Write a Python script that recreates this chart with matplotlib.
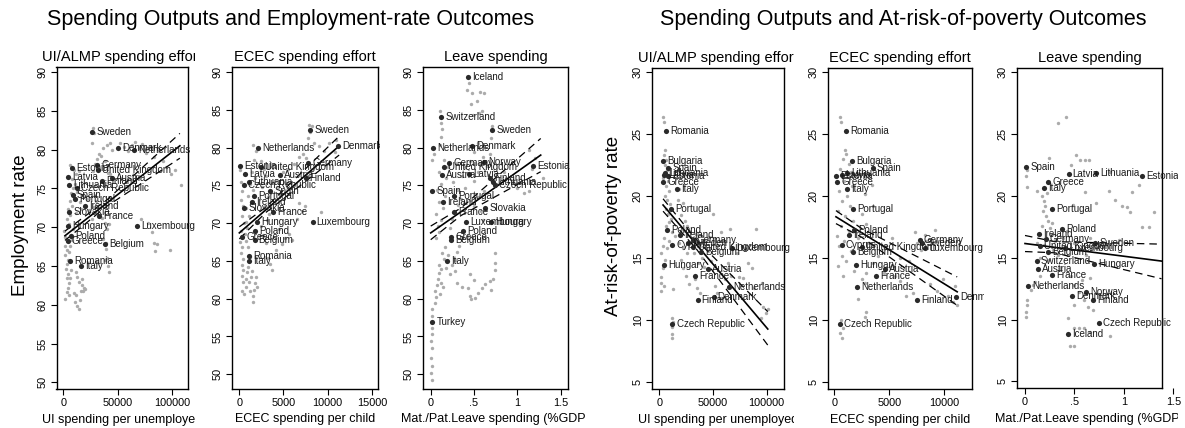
import numpy as np
import matplotlib
matplotlib.use("Agg")
import matplotlib.pyplot as plt
from matplotlib import transforms as mtransforms

plt.rcParams['font.family'] = ['Liberation Sans', 'DejaVu Sans']

W, H = 1185, 428
nan = np.nan

# country-level values (latest wave), one entry per country
countries = ['Iceland', 'Switzerland', 'Sweden', 'Denmark', 'Netherlands', 'Germany',
             'Norway', 'United Kingdom', 'Estonia', 'Latvia', 'Austria', 'Lithuania',
             'Finland', 'Czech Republic', 'Spain', 'Portugal', 'Ireland', 'Slovakia',
             'France', 'Hungary', 'Luxembourg', 'Poland', 'Greece', 'Belgium',
             'Romania', 'Italy', 'Turkey', 'Bulgaria', 'Cyprus']
emp_rate = [89.4, 84.0, 82.3, 80.2, 79.9, 78.0, 78.1, 77.4, 77.6, 76.5, 76.3, 75.5,
            75.9, 75.1, 74.2, 73.6, 72.8, 72.0, 71.5, 70.1, 70.1, 68.9, 68.2, 67.8,
            65.6, 65.0, 56.9, nan, nan]
pov_rate = [8.8, 14.7, 16.2, 11.9, 12.7, 16.5, 12.2, 15.95, 21.65, 21.75, 14.1, 21.85,
            11.6, 9.7, 22.3, 18.95, 16.9, nan, 13.6, 14.5, 15.8, 17.3, 21.15, 15.5,
            25.3, 20.6, nan, 22.85, 16.1]
ui_spend = [nan, nan, 26800, 50500, 64900, 31200, nan, 31700, 7800, 4100, 44900, 5300,
            35600, 12200, 8500, 10700, 19600, 5500, 32900, 4600, 67800, 7000, 3900, 38600,
            6100, 16600, nan, 3700, 12100]
ecec_spend = [nan, nan, 8030, 11130, 2080, 7780, nan, 2480, 120, 660, 4600, 1120,
              7500, 490, 3500, 1690, 1380, 530, 3770, 1960, 8290, 1800, 290, 1720,
              1050, 1130, nan, 1590, 675]
leave_spend = [0.435, 0.12, 0.71, 0.48, 0.03, 0.21, 0.62, 0.15, 1.18, 0.44, 0.127, 0.72,
               0.69, 0.745, 0.015, 0.27, 0.14, 0.626, 0.27, 0.70, 0.405, 0.37, 0.234, 0.232,
               nan, 0.187, 0.018, nan, nan]

# all country-year observations (UI in thousands per unemployed)
obs_ui_emp = [
    (1, 69.5), (2, 68.8), (3, 68.2), (1.5, 67.6), (3, 67.0), (2, 66.4), (4, 65.8), (3, 65.2),
    (2.5, 64.6), (4, 64.0), (3, 63.4), (5, 62.8), (4, 62.2), (3, 61.6), (1.5, 60.8), (5, 61.2),
    (6, 63.5), (7, 64.5), (5, 66.8), (6, 67.6), (8, 68.4), (7, 69.0), (9, 69.8), (5, 70.4),
    (3, 71.0), (6, 71.6), (4, 72.4), (8, 72.8), (6, 73.4), (10, 73.8), (7, 74.4), (9, 75.0),
    (11, 75.6), (8, 76.2), (12, 76.8), (10, 77.4), (6, 78.0), (14, 77.2), (13, 74.6), (15, 73.2),
    (12, 71.8), (16, 72.4), (10, 61.5), (11, 60.4), (12, 61.2), (13, 59.9), (14, 59.5), (15, 60.6),
    (16, 61.8), (17, 62.6), (18, 61.8), (19, 62.2), (14, 62.9), (13, 63.6), (12, 64.2), (17, 63.3),
    (20, 62.0), (22, 73.6), (24, 72.2), (26, 71.0), (28, 72.6), (30, 73.4), (27, 77.2), (29, 78.2),
    (31, 78.8), (33, 79.4), (27, 82.8), (28, 82.2), (26, 80.8), (35, 79.2), (37, 80.2), (40, 80.6),
    (43, 80.9), (45, 80.0), (38, 78.6), (41, 77.0), (43, 76.8), (36, 71.2), (38, 70.6), (40, 69.8),
    (42, 70.4), (37, 68.5), (39, 67.2), (40, 66.0), (41, 65.0), (42, 64.2), (38, 65.8), (39, 68.0),
    (52, 80.8), (56, 80.4), (60, 79.8), (63, 80.6), (66, 81.0), (70, 80.2), (73, 80.7), (76, 79.6),
    (80, 80.4), (84, 79.0), (88, 79.8), (92, 78.6), (95, 77.8), (99, 76.8), (103, 77.4), (109, 75.5),
    (82, 69.4), (84, 68.0), (85, 66.9), (86, 67.8), (98, 67.0), (78, 70.6), (72, 71.0),
]
obs_ecec_emp = [
    (100, 77.0), (200, 75.5), (300, 74.2), (150, 73.0), (400, 72.2), (250, 71.0), (500, 70.0),
    (200, 69.0), (350, 68.3), (100, 67.5), (300, 66.8), (200, 66.0), (400, 65.2), (250, 64.5),
    (450, 63.8), (300, 63.0), (400, 62.2), (350, 61.0), (500, 60.6), (700, 61.5), (800, 62.6),
    (900, 63.5), (1000, 64.2), (1100, 62.2), (1200, 61.0), (1300, 62.8), (1400, 63.6), (1500, 59.6),
    (1600, 60.4), (1700, 61.2), (1800, 62.0), (1900, 62.8), (2000, 61.6), (1200, 65.5), (1000, 66.8),
    (800, 67.6), (600, 68.5), (900, 69.4), (700, 70.2), (1100, 71.0), (800, 72.0), (1300, 72.8),
    (1000, 73.6), (1500, 74.4), (1200, 75.2), (1800, 76.0), (1400, 76.8), (2200, 77.5), (1700, 78.4),
    (1600, 80.4), (1900, 79.6), (2500, 78.2), (2800, 77.2), (3000, 76.2), (2600, 74.8), (3200, 73.4),
    (2900, 72.2), (3400, 71.2), (3100, 70.4), (2400, 69.6), (2700, 68.4), (3000, 67.4), (3500, 64.6),
    (3700, 63.8), (3300, 65.4), (4200, 66.4), (4800, 67.2), (5200, 68.0), (5600, 68.6), (6000, 67.8),
    (4500, 69.2), (4000, 75.6), (4400, 74.8), (5000, 76.8), (5500, 77.2), (6200, 77.8), (6800, 78.8),
    (7200, 79.2), (7600, 78.6), (7800, 81.2), (8000, 82.0), (8200, 82.9), (7900, 83.0), (8500, 80.6),
    (9000, 80.2), (9600, 79.6), (10200, 80.6), (10800, 79.4), (11000, 81.0), (6800, 72.6),
    (7100, 71.6), (7400, 72.2), (9300, 71.4), (6500, 70.6),
]
obs_leave_emp = [
    (0.01, 49.2), (0.0, 50.1), (0.01, 51.1), (0.0, 52.2), (0.01, 53.5), (0.0, 54.4), (0.01, 55.3),
    (0.01, 56.1), (0.02, 57.7), (0.02, 58.6), (0.05, 59.4), (0.06, 60.2), (0.05, 61.0), (0.07, 61.8),
    (0.08, 62.6), (0.1, 63.4), (0.12, 63.9), (0.09, 64.5), (0.12, 62.0), (0.14, 61.5), (0.11, 60.6),
    (0.15, 65.2), (0.13, 66.0), (0.17, 66.8), (0.2, 65.8), (0.18, 64.0), (0.22, 63.3), (0.25, 64.4),
    (0.28, 65.1), (0.3, 66.2), (0.33, 67.0), (0.28, 63.6), (0.3, 62.0), (0.36, 61.6), (0.43, 61.4),
    (0.45, 60.3), (0.47, 59.9), (0.51, 60.1), (0.55, 60.7), (0.59, 61.4), (0.63, 61.9), (0.69, 62.3),
    (0.7, 61.2), (0.72, 62.6), (0.74, 63.8), (0.74, 64.7), (0.74, 66.0), (0.45, 63.2), (0.5, 62.5),
    (0.06, 68.0), (0.1, 68.8), (0.08, 69.6), (0.12, 70.4), (0.06, 71.2), (0.14, 72.0), (0.09, 72.8),
    (0.16, 73.6), (0.07, 74.4), (0.12, 75.2), (0.18, 76.0), (0.1, 76.8), (0.2, 77.4), (0.15, 78.4),
    (0.22, 69.4), (0.25, 70.6), (0.28, 71.4), (0.32, 72.4), (0.35, 73.2), (0.38, 72.6), (0.3, 74.4),
    (0.26, 75.4), (0.4, 74.6), (0.45, 73.0), (0.5, 72.2), (0.55, 73.4), (0.58, 71.6), (0.6, 70.4),
    (0.62, 74.2), (0.5, 75.6), (0.36, 76.2), (0.4, 77.4), (0.3, 78.0), (0.02, 78.4), (0.04, 79.2),
    (0.03, 80.0), (0.11, 80.4), (0.12, 81.4), (0.13, 82.4), (0.12, 83.2), (0.11, 84.8), (0.44, 88.5),
    (0.42, 87.6), (0.48, 87.2), (0.57, 87.3), (0.61, 87.2), (0.53, 86.1), (0.59, 84.8), (0.56, 84.6),
    (0.49, 84.3), (0.46, 85.8), (0.45, 78.2), (0.5, 79.4), (0.55, 80.6), (0.6, 78.8), (0.65, 77.6),
    (0.68, 79.2), (0.7, 81.2), (0.71, 82.8), (0.66, 76.4), (0.55, 76.8), (0.75, 75.2), (0.95, 75.4),
    (1.0, 74.6), (1.08, 74.0), (1.13, 74.3), (1.13, 79.7), (1.17, 77.2), (1.2, 78.6), (0.85, 76.8),
    (1.3, 76.0),
]
obs_ui_pov = [
    (3, 26.4), (4, 26.0), (5, 23.7), (4, 23.3), (6, 22.9), (5, 22.5), (7, 22.1), (3, 21.5), (8, 21.2),
    (6, 20.8), (9, 20.4), (5, 20.0), (7, 19.7), (10, 19.4), (6, 19.0), (8, 18.6), (11, 18.2), (9, 17.9),
    (6, 17.6), (12, 17.1), (4, 16.6), (9, 16.4), (3, 16.0), (7, 15.8), (2, 15.4), (5, 14.9), (3, 14.2),
    (2, 13.5), (2, 13.0), (2, 12.4), (4, 12.8), (13, 12.5), (12, 10.2), (12, 9.5), (12, 8.9), (12, 8.6),
    (13, 9.9), (17, 19.7), (22, 19.5), (18, 20.6), (20, 18.5), (24, 18.0), (26, 17.6), (28, 17.2),
    (15, 16.8), (18, 16.2), (22, 15.8), (26, 15.4), (30, 16.4), (20, 14.9), (22, 14.2), (25, 13.6),
    (28, 12.9), (33, 13.3), (35, 12.6), (38, 12.2), (36, 14.6), (40, 15.0), (42, 14.3), (32, 15.4),
    (34, 17.0), (38, 16.2), (45, 15.6), (48, 14.8), (50, 18.6), (46, 16.7), (57, 17.1), (66, 17.4),
    (52, 12.8), (54, 12.2), (57, 11.8), (61, 13.3), (64, 14.1), (67, 13.6), (64, 14.6), (74, 13.5),
    (78, 13.4), (77, 16.0), (80, 15.8), (83, 14.6), (86, 14.2), (72, 15.4), (90, 17.4), (95, 10.2),
    (97, 11.1), (99, 10.6), (101, 10.9), (96, 13.0), (88, 12.6),
]
obs_ecec_pov = [
    (520, 26.4), (600, 26.0), (1000, 23.7), (1100, 23.4), (800, 23.0), (1300, 22.6), (500, 22.2),
    (1500, 22.0), (200, 21.6), (900, 21.2), (1600, 20.8), (400, 20.4), (1200, 20.0), (700, 19.6),
    (1400, 19.2), (300, 18.8), (1000, 18.4), (1700, 18.0), (600, 17.6), (1300, 17.2), (200, 16.8),
    (900, 16.4), (400, 16.0), (1500, 15.6), (700, 15.2), (1100, 14.8), (300, 14.4), (1800, 14.0),
    (800, 13.6), (2200, 21.8), (3400, 20.9), (3560, 19.2), (2800, 20.2), (2500, 18.6), (2900, 17.8),
    (2200, 16.6), (2600, 15.8), (3200, 16.2), (2500, 13.3), (2800, 13.0), (2900, 13.8), (2190, 11.7),
    (2800, 10.3), (2850, 10.7), (520, 9.0), (700, 8.6), (800, 9.4), (600, 10.0), (3500, 14.6),
    (4000, 15.2), (4500, 13.8), (5070, 14.3), (5500, 13.6), (5990, 13.2), (4700, 16.0), (5300, 16.6),
    (6000, 15.0), (7350, 17.1), (8270, 16.9), (9180, 17.3), (7500, 16.2), (7900, 15.7), (8400, 16.4),
    (6800, 14.8), (8700, 12.9), (9400, 12.4), (9940, 13.3), (10400, 12.0), (10800, 11.5),
    (11160, 11.2), (11000, 12.8), (7200, 12.2), (6500, 12.0),
]
obs_leave_pov = [
    (0.41, 26.4), (0.33, 25.9), (0.24, 23.1), (0.52, 23.3), (0.56, 22.9), (0.61, 22.9), (0.65, 22.9),
    (0.47, 22.5), (0.02, 22.1), (0.01, 21.6), (0.02, 20.7), (0.12, 20.4), (0.86, 21.9), (0.85, 20.4),
    (1.08, 20.3), (1.15, 20.9), (0.72, 19.4), (0.91, 19.7), (0.98, 19.2), (1.03, 19.1), (1.06, 18.7),
    (1.3, 18.7), (1.18, 17.5), (1.25, 17.5), (0.49, 19.3), (0.61, 20.3), (0.17, 20.0), (0.19, 19.6),
    (0.2, 19.2), (0.18, 18.8), (0.21, 18.4), (0.23, 18.0), (0.17, 17.6), (0.25, 17.4), (0.27, 17.8),
    (0.22, 20.2), (0.26, 16.8), (0.3, 16.4), (0.19, 16.0), (0.12, 16.2), (0.28, 15.6), (0.33, 15.2),
    (0.24, 14.8), (0.15, 15.0), (0.38, 16.6), (0.42, 17.2), (0.5, 16.2), (0.55, 15.6), (0.62, 15.2),
    (0.66, 16.6), (0.72, 15.8), (0.78, 16.0), (0.95, 16.4), (0.35, 14.2), (0.01, 10.2), (0.01, 10.6),
    (0.02, 11.2), (0.02, 11.6), (0.06, 12.4), (0.1, 13.0), (0.15, 13.5), (0.08, 12.8), (0.47, 13.5),
    (0.5, 12.8), (0.55, 12.2), (0.6, 11.6), (0.64, 11.0), (0.69, 10.8), (0.58, 13.2), (0.66, 13.4),
    (0.5, 11.2), (0.82, 12.1), (0.43, 10.1), (0.5, 9.3), (0.55, 9.3), (0.6, 9.3), (0.66, 9.0),
    (0.86, 8.7), (0.5, 7.9), (0.45, 7.9),
]

# linear fits with 95% CI (x, fit, lower, upper)
fit_ui_emp = ([1500, 40000, 107500], [68.9, 73.1, 80.5], [68.3, 72.7, 78.9], [69.5, 73.5, 82.1])
fit_ecec_emp = ([0, 3000, 11300], [68.7, 71.75, 80.2], [67.9, 71.4, 79.0], [69.5, 72.1, 81.5])
fit_leave_emp = ([0, 0.35, 1.27], [68.7, 71.5, 79.0], [67.8, 71.0, 76.8], [69.6, 72.0, 81.2])
fit_ui_pov = ([3500, 35000, 101000], [19.3, 16.07, 9.3], [18.8, 15.7, 8.0], [19.8, 16.45, 10.7])
fit_ecec_pov = ([150, 2500, 11200], [18.35, 17.06, 12.3], [17.8, 16.7, 11.2], [18.85, 17.4, 13.5])
fit_leave_pov = ([0, 0.3, 1.38], [16.15, 15.84, 14.73], [15.5, 15.4, 13.3], [16.8, 16.3, 16.1])

emp_ticks = [50, 55, 60, 65, 70, 75, 80, 85, 90]
pov_ticks = [5, 10, 15, 20, 25, 30]

panels = [
    dict(box=(56.5, 66.7, 188, 389.3), cell=(0, 195), x=ui_spend, y=emp_rate,
         obs=obs_ui_emp, xmul=1000, fit=fit_ui_emp, xlim=(-6300, 115000), ylim=(49.1, 90.7),
         xticks=[0, 50000, 100000], xtl=['0', '50000', '100000'], yticks=emp_ticks,
         title='UI/ALMP spending effort', xlabel='UI spending per unemployed'),
    dict(box=(232, 66.7, 378, 388.5), cell=(195, 380), x=ecec_spend, y=emp_rate,
         obs=obs_ecec_emp, xmul=1, fit=fit_ecec_emp, xlim=(-830, 15700), ylim=(48.1, 90.7),
         xticks=[0, 5000, 10000, 15000], xtl=['0', '5000', '10000', '15000'], yticks=emp_ticks,
         title='ECEC spending effort', xlabel='ECEC spending per child'),
    dict(box=(423, 66.7, 568, 388.5), cell=(380, 585), x=leave_spend, y=emp_rate,
         obs=obs_leave_emp, xmul=1, fit=fit_leave_emp, xlim=(-0.089, 1.585), ylim=(48.1, 90.7),
         xticks=[0, 0.5, 1, 1.5], xtl=['0', '.5', '1', '1.5'], yticks=emp_ticks,
         title='Leave spending', xlabel='Mat./Pat.Leave spending (%GDP)'),
    dict(box=(652, 67.7, 784, 389.3), cell=(597, 794), x=ui_spend, y=pov_rate,
         obs=obs_ui_pov, xmul=1000, fit=fit_ui_pov, xlim=(-6800, 116100), ylim=(4.44, 30.37),
         xticks=[0, 50000, 100000], xtl=['0', '50000', '100000'], yticks=pov_ticks,
         title='UI/ALMP spending effort', xlabel='UI spending per unemployed'),
    dict(box=(828, 67.7, 972, 389.3), cell=(794, 984), x=ecec_spend, y=pov_rate,
         obs=obs_ecec_pov, xmul=1, fit=fit_ecec_pov, xlim=(-575, 12550), ylim=(4.44, 30.37),
         xticks=[0, 5000, 10000], xtl=['0', '5000', '10000'], yticks=pov_ticks,
         title='ECEC spending effort', xlabel='ECEC spending per child'),
    dict(box=(1017, 67.7, 1162, 388.3), cell=(984, 1178), x=leave_spend, y=pov_rate,
         obs=obs_leave_pov, xmul=1, fit=fit_leave_pov, xlim=(-0.081, 1.385), ylim=(4.44, 30.37),
         xticks=[0, 0.5, 1], xtl=['0', '.5', '1'], yticks=pov_ticks,
         title='Leave spending', xlabel='Mat./Pat.Leave spending (%GDP)'),
]

fig = plt.figure(figsize=(W / 100, H / 100), dpi=100)


def clip_to_cell(artist, cell):
    bb = mtransforms.Bbox.from_extents(cell[0] / W, 0, cell[1] / W, 1)
    artist.set_clip_box(mtransforms.TransformedBbox(bb, fig.transFigure))
    artist.set_clip_on(True)


for p in panels:
    l, t, r, b = p['box']
    ax = fig.add_axes([l / W, 1 - b / H, (r - l) / W, (b - t) / H])

    obs = np.array(p['obs'], dtype=float)
    ax.scatter(obs[:, 0] * p['xmul'], obs[:, 1], s=6, color='#ababab', lw=0, zorder=2)

    fx, fy, flo, fhi = p['fit']
    ax.plot(fx, fy, color='black', lw=1.2, zorder=4)
    ax.plot(fx, flo, color='black', lw=0.9, dashes=(6, 4), zorder=4)
    ax.plot(fx, fhi, color='black', lw=0.9, dashes=(6, 4), zorder=4)

    xs = np.array(p['x'], dtype=float)
    ys = np.array(p['y'], dtype=float)
    ok = ~np.isnan(xs) & ~np.isnan(ys)
    ax.scatter(xs[ok], ys[ok], s=14, color='#2a2a2a', lw=0, zorder=5)
    lab_tr = mtransforms.offset_copy(ax.transData, fig=fig, x=3, y=0, units='points')
    for name, xv, yv, k in zip(countries, xs, ys, ok):
        if k:
            txt = ax.text(xv, yv, name, transform=lab_tr, fontsize=7.0, color='#1a1a1a',
                          va='center', ha='left', zorder=6)
            clip_to_cell(txt, p['cell'])

    ax.set_xlim(*p['xlim'])
    ax.set_ylim(*p['ylim'])
    ax.set_xticks(p['xticks'])
    ax.set_xticklabels(p['xtl'])
    ax.set_yticks(p['yticks'])
    ax.tick_params(axis='both', direction='out', length=4, width=0.8, labelsize=7.8,
                   colors='black', pad=2.5)
    ax.tick_params(axis='y', labelrotation=90)
    for lab in ax.get_yticklabels():
        lab.set_va('center')
    for sp in ax.spines.values():
        sp.set_linewidth(1.0)
        sp.set_color('black')

    ax.set_title(p['title'], fontsize=10.5, pad=4)
    clip_to_cell(ax.title, p['cell'])
    ax.set_xlabel(p['xlabel'], fontsize=9, labelpad=4)
    clip_to_cell(ax.xaxis.label, p['cell'])

    if p is panels[-1]:
        # the 1.5 tick sits past the plot region
        trans = mtransforms.blended_transform_factory(ax.transData, ax.transAxes)
        ax.plot([1.5], [0], transform=trans, marker=3, markersize=4, mew=0.8,
                color='black', clip_on=False)
        ax.annotate('1.5', xy=(1.5, 0), xycoords=trans, xytext=(0, -6.5),
                    textcoords='offset points', ha='center', va='top', fontsize=7.8,
                    annotation_clip=False)

fig.text(291 / W, 1 - 20 / H, 'Spending Outputs and Employment-rate Outcomes',
         fontsize=15.5, ha='center', va='center')
fig.text(903 / W, 1 - 20 / H, 'Spending Outputs and At-risk-of-poverty Outcomes',
         fontsize=15.5, ha='center', va='center')
fig.text(21 / W, 1 - 225 / H, 'Employment rate', fontsize=13.5, rotation=90,
         ha='center', va='center')
fig.text(613 / W, 1 - 226 / H, 'At-risk-of-poverty rate', fontsize=13.5, rotation=90,
         ha='center', va='center')

fig.savefig('out.png', dpi=100, facecolor='white')
